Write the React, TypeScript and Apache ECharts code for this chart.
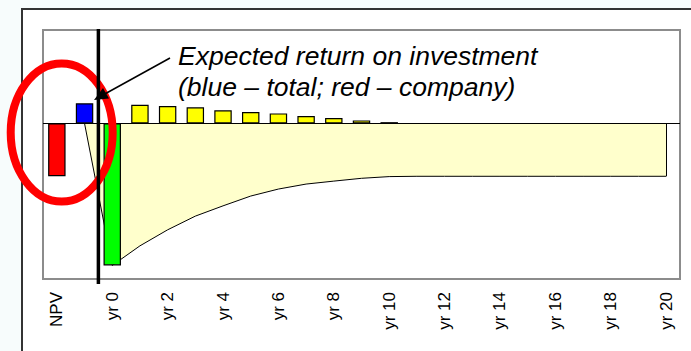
import React, { useEffect, useRef } from "react";
import * as echarts from "echarts";

// Categories: NPV, blank (total NPV), yr 0 .. yr 20
const categories = [
  "NPV", "", "yr 0", "yr 1", "yr 2", "yr 3", "yr 4", "yr 5", "yr 6", "yr 7", "yr 8",
  "yr 9", "yr 10", "yr 11", "yr 12", "yr 13", "yr 14", "yr 15", "yr 16", "yr 17",
  "yr 18", "yr 19", "yr 20",
];

// Bar values
const npvCompany = -34; // red
const npvTotal = 12.9; // blue
const investmentYr0 = -91.3; // green
const yearlyReturns = [12.0, 11.1, 10.3, 8.4, 7.3, 6.4, 4.7, 3.4, 1.9, 0.8]; // yr 1 .. yr 10

// Cumulative curve (area), starting at the blank category with 0, then yr 0 .. yr 20
const cumulativeStart = 0;
const cumulative = [
  -91.3, -78.7, -68.4, -59.6, -53.0, -46.7, -42.2, -39.0, -37.1, -35.3, -34.2,
  -34.0, -34.0, -34.0, -34.0, -34.0, -34.0, -34.0, -34.0, -34.0, -34.0,
];

const annotationLines = [
  "Expected return on investment",
  "(blue \u2013 total; red \u2013 company)",
];

export default function App() {
  const ref = useRef<HTMLDivElement>(null);

  useEffect(() => {
    if (!ref.current) return;
    const chart = echarts.init(ref.current, undefined, { renderer: "svg" });

    const barData: any[] = [
      { value: npvCompany, itemStyle: { color: "#FF0000" } },
      { value: npvTotal, itemStyle: { color: "#0000FF" } },
      { value: investmentYr0, itemStyle: { color: "#00FF00" } },
      ...yearlyReturns.map((v) => ({ value: v, itemStyle: { color: "#FFFF00" } })),
    ];
    while (barData.length < categories.length) barData.push("-");

    const areaData: any[] = ["-", cumulativeStart, ...cumulative];
    const lastCat = categories[categories.length - 1];
    const lastVal = cumulative[cumulative.length - 1];

    chart.setOption({
      animation: false,
      backgroundColor: "transparent",
      grid: {
        left: 43,
        top: 30,
        right: 11,
        bottom: 72,
        show: true,
        borderColor: "#8c8c8c",
        borderWidth: 2,
        backgroundColor: "transparent",
        outerBoundsMode: "none",
      },
      xAxis: {
        type: "category",
        data: categories,
        axisLine: { show: false },
        axisTick: { show: false },
        splitLine: { show: false },
        axisLabel: {
          interval: 1,
          rotate: 90,
          fontSize: 17,
          color: "#000",
          fontFamily: '"Liberation Sans", Arial, sans-serif',
          margin: 13,
        },
      },
      yAxis: { type: "value", min: -100, max: 60, show: false },
      series: [
        {
          type: "line",
          data: areaData,
          symbol: "none",
          z: 1,
          lineStyle: { color: "#000", width: 1 },
          areaStyle: { color: "#FFFFCC", opacity: 1, origin: 0 },
          markLine: {
            silent: true,
            symbol: "none",
            label: { show: false },
            lineStyle: { color: "#000", width: 1, type: "solid" },
            data: [
              [
                { coord: [lastCat, 0] },
                { coord: [lastCat, lastVal] },
              ],
            ],
          },
        },
        {
          type: "bar",
          data: barData,
          barWidth: "63%",
          z: 3,
          itemStyle: { borderColor: "#000", borderWidth: 1.2 },
          markLine: {
            silent: true,
            symbol: "none",
            label: { show: false },
            lineStyle: { color: "#000", width: 1, type: "solid" },
            data: [{ yAxis: 0 }],
          },
        },
      ],
    });

    const c1 = chart.convertToPixel({ xAxisIndex: 0 }, 1) as number;
    const c2 = chart.convertToPixel({ xAxisIndex: 0 }, 2) as number;
    const vx = (c1 + c2) / 2;

    chart.setOption({
      graphic: [
        {
          type: "ellipse",
          z: 100,
          shape: { cx: 61.7, cy: 132.5, rx: 51, ry: 69 },
          style: { fill: "none", stroke: "#FF0000", lineWidth: 8 },
        },
        {
          type: "line",
          z: 101,
          shape: { x1: vx, y1: 29, x2: vx, y2: 284 },
          style: { stroke: "#000", lineWidth: 3.5 },
        },
        {
          type: "line",
          z: 101,
          shape: { x1: 170, y1: 58, x2: 103, y2: 95 },
          style: { stroke: "#000", lineWidth: 1.5 },
        },
        {
          type: "polygon",
          z: 101,
          shape: { points: [[94, 100], [109, 98.5], [103, 88]] },
          style: { fill: "#000" },
        },
        ...annotationLines.map((t, i) => ({
          type: "text",
          z: 101,
          x: 178,
          y: 56 + i * 30.5,
          style: {
            text: t,
            fill: "#000",
            font: 'italic 26.5px "Liberation Sans", Arial, sans-serif',
            verticalAlign: "middle",
          },
        })),
      ],
    });

    return () => chart.dispose();
  }, []);

  return (
    <div
      style={{
        position: "fixed",
        left: 0,
        top: 0,
        width: 691,
        height: 351,
        background: "#F7FCFC",
        overflow: "hidden",
      }}
    >
      <div
        style={{
          position: "absolute",
          left: 21,
          top: 8,
          width: 720,
          height: 400,
          background: "#fff",
          border: "2px solid #333",
        }}
      />
      <div ref={ref} style={{ position: "absolute", left: 0, top: 0, width: 691, height: 351 }} />
    </div>
  );
}
